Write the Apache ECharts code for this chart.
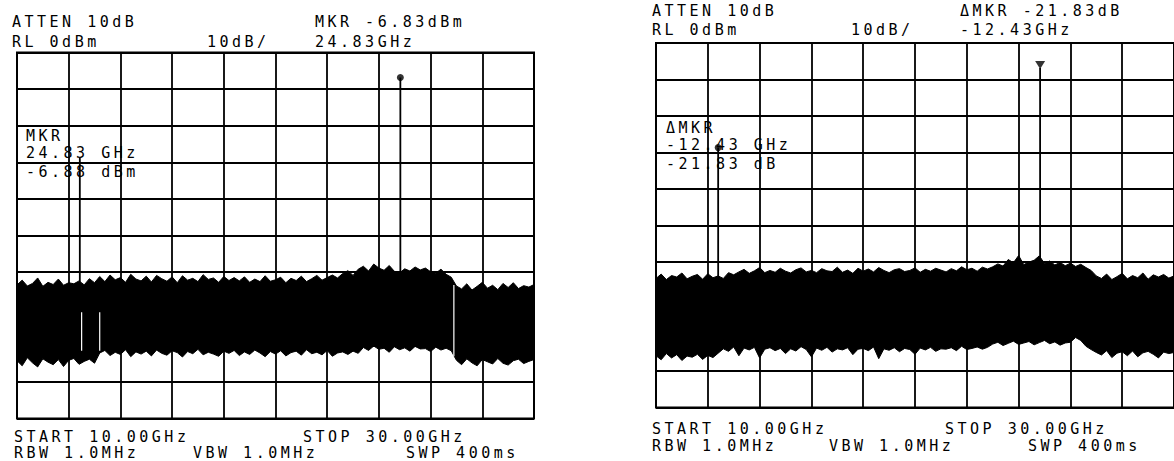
<!DOCTYPE html>
<html><head><meta charset="utf-8">
<script src="https://cdn.jsdelivr.net/npm/echarts@6/dist/echarts.min.js"></script>
<style>
html,body{margin:0;padding:0;background:#fff;}
#chart{width:1174px;height:461px;}
#chart text{letter-spacing:3.5px;}
</style></head><body><div id="chart"></div>
<script>
// Sample frequencies (GHz), 0.2 GHz apart, 10 .. 30
const freqs = Array.from({length: 101}, (_, i) => +(10 + i * 0.2).toFixed(1));

// Left trace: upper / lower noise envelope (dBm)
const leftUpper = [
  -63.5,-62.2,-63.8,-63.1,-61.6,-63.9,-62.8,-63.4,-61.9,-63.6,-62.9,-63.2,
  -62.4,-63.5,-61.8,-62.9,
  -61.2,-62.6,-60.8,-62.1,-61.5,-62.8,-60.6,-61.9,-62.4,-61.1,-62.7,-60.9,-61.8,-62.5,-61.3,-62.9,-61.0,-62.2,-61.7,-62.6,-60.7,-62.0,-61.6,-62.8,-61.2,-62.3,-61.5,
  -62.4,-61.3,-62.8,-61.9,-62.6,-61.0,-62.5,-62.1,-61.4,-62.9,-61.7,-62.3,-61.1,-62.6,-61.8,-60.9,-62.2,-61.5,-60.8,-61.6,
  -60.4,-59.6,-60.9,-59.2,-58.4,-59.7,-57.8,-58.9,-59.5,-58.2,-59.8,-60.2,-59.1,-59.7,-58.6,-59.4,-58.9,-59.9,-60.3,-59.2,-60.6,-61.4,
  -63.8,-64.6,-63.2,-64.9,-63.9,-62.8,-64.4,-63.6,-64.8,-63.1,-64.2,-62.9,-64.5,-63.7,-64.1,-63.4
];
const leftLower = [
  -84.2,-85.6,-83.4,-84.8,-85.9,-83.7,-84.6,-85.3,-83.9,-85.8,-84.1,-83.6,-85.2,-84.4,-83.8,-84.9,
  -82.1,-81.4,-82.8,-81.9,-82.5,-81.2,-83.1,-81.8,-82.4,-81.6,
  -82.9,-81.3,-82.2,-82.7,-81.5,-82.0,-83.2,-81.7,-82.3,-81.1,
  -82.6,-81.9,-82.4,-83.0,-81.6,-82.2,-81.4,-82.8,-81.8,-82.5,
  -81.3,-82.1,-83.1,-81.7,-82.4,-81.5,-82.9,-82.0,-81.6,-82.7,
  -81.2,-82.3,-81.9,-82.6,-81.4,-83.0,-82.1,-81.8,-82.5,-81.6,
  -82.2,
  -80.6,-81.4,-80.2,-81.1,-80.8,-81.9,-80.4,-81.2,-80.7,-81.6,-80.3,-81.0,-80.9,-81.7,-80.5,-81.3,-80.8,-81.5,
  -84.1,-85.3,-83.7,-84.8,-85.6,-83.9,-84.5,-85.1,-83.6,-84.9,-85.4,-84.2,-83.8,-85.0,-84.4,-83.9
];
// Right trace
const rightUpper = [
  -64.6,-63.4,-64.9,-63.8,-64.2,-63.1,-64.7,-64.0,-63.5,-64.8,-63.3,-64.4,-63.9,-64.6,-63.0,-63.6,
  -62.8,-62.1,-63.2,-62.5,-61.6,-63.0,-62.4,-62.9,-61.8,-62.6,
  -63.1,-62.2,-61.7,-62.8,-62.4,-63.0,-61.9,-62.5,-62.7,-61.5,
  -62.9,-62.3,-63.2,-61.8,-62.6,-62.0,-62.8,-61.6,-62.4,-63.0,
  -62.2,-61.9,-62.7,-62.4,-61.7,-62.9,-62.1,-62.6,-61.8,-62.3,
  -62.8,-61.9,-62.5,-61.4,-62.2,-61.8,-62.6,-61.5,-62.0,
  -61.4,-60.6,-61.2,-59.4,-60.3,-58.3,-60.8,-60.1,-59.6,-58.4,-60.5,-59.8,-60.9,-60.2,-61.1,-60.4,-61.3,-60.7,-61.6,-62.4,
  -63.9,-64.6,-63.4,-64.9,-64.1,-63.2,-64.7,-63.8,-64.4,-63.1,-64.8,-63.6,-64.2,-63.5,-64.5,-63.9
];
const rightLower = [
  -85.8,-86.9,-85.2,-86.4,-85.5,-87.1,-85.9,-86.2,-85.4,-86.8,-85.7,-86.3,-85.1,
  -83.9,-84.6,-83.4,-85.8,-83.7,-84.2,-83.5,-86.4,-84.0,-83.6,
  -84.4,-83.8,-85.2,-83.9,-84.5,-83.3,-84.1,-86.1,-83.7,-84.3,
  -83.5,-84.8,-83.9,-84.2,-83.6,-85.5,-84.0,-83.8,-84.4,-83.4,
  -86.6,-83.9,-84.3,-83.6,-84.7,-83.8,-84.1,-85.4,-83.7,-84.2,
  -83.5,-84.6,-83.9,-84.0,-83.6,-84.4,-83.2,-84.1,-83.8,-83.4,
  -84.0,-83.5,
  -82.6,-82.1,-83.0,-82.4,-81.8,-82.7,-82.3,-81.9,-82.8,-82.2,-81.6,-82.5,-82.0,-82.9,-82.3,-82.1,
  -80.8,-81.6,-83.2,-84.1,
  -84.9,-85.6,-84.4,-86.3,-85.1,-84.7,-85.8,-84.5,-86.1,-85.0,-84.6,-85.4,-86.4,-84.8,-85.2,-84.9
];

// Spikes: [freq GHz, peak dBm, foot dBm]
const leftSpikes = [[12.43, -28.7, -66], [24.83, -6.83, -66]];
const rightSpikes = [[12.40, -28.7, -66], [24.83, -6.83, -66]];
// White gaps in the left trace: [freq, top, bottom]
const leftGaps = [[12.5, -71, -81.5], [13.2, -71, -81.5], [26.9, -63.5, -83]];
// Marker points
const leftMarker = [[24.83, -6.83]];
const rightMarker = [[24.83, -6.83]];
const rightDeltaMarker = [[12.40, -28.7]];

// Axis ranges
const xMin = 10, xMax = 30, xStep = 2;
const yMin = -100, yMax = 0, yStep = 10;

// Annotation texts
const leftTexts = ['ATTEN 10dB', 'RL 0dBm', '10dB/', 'MKR -6.83dBm', '24.83GHz',
  'MKR', '24.83 GHz', '-6.88 dBm',
  'START 10.00GHz', 'STOP 30.00GHz', 'RBW 1.0MHz', 'VBW 1.0MHz', 'SWP 400ms'];
const rightTexts = ['ATTEN 10dB', 'RL 0dBm', '10dB/', '\u0394MKR -21.83dB', '-12.43GHz',
  '\u0394MKR', '-12.43 GHz', '-21.83 dB',
  'START 10.00GHz', 'STOP 30.00GHz', 'RBW 1.0MHz', 'VBW 1.0MHz', 'SWP 400ms'];

// ---- layout ----
const leftPos = [[12,21.5],[12,42],[207,42],[315,21.5],[315,42],
  [26,136],[26,153],[26,172],
  [14,437],[303,437],[14,453],[193,453],[406,453]];
const rightPos = [[652,11],[652,30],[851,30],[960,11],[960,30],
  [666,128],[666,145],[666,164],
  [652,429],[945,429],[652,445.5],[829,445.5],[1028,445.5]];

const FONT = '15px "DejaVu Sans Mono"';
function texts(list, pos) {
  return list.map((t, i) => ({
    type: 'text', x: pos[i][0], y: pos[i][1], silent: true,
    style: { text: t, font: FONT, fill: '#000', textVerticalAlign: 'middle', verticalAlign: 'middle' }
  }));
}

function xAxis(gi) {
  return { gridIndex: gi, type: 'value', min: xMin, max: xMax, interval: xStep,
    axisLine: {show: false}, axisTick: {show: false}, axisLabel: {show: false},
    splitLine: {show: true, lineStyle: {color: '#000', width: 1.8}} };
}
function yAxis(gi) {
  return { gridIndex: gi, type: 'value', min: yMin, max: yMax, interval: yStep,
    axisLine: {show: false}, axisTick: {show: false}, axisLabel: {show: false},
    splitLine: {show: true, lineStyle: {color: '#000', width: 1.8}} };
}
// Noise band: one filled polygon between the upper and lower envelopes
function band(gi, upper, lower) {
  return { type: 'custom', xAxisIndex: gi, yAxisIndex: gi, z: 3,
    data: freqs.map((f, i) => [f, upper[i], lower[i]]),
    encode: {x: 0, y: [1, 2]},
    renderItem: function (params, api) {
      if (params.dataIndex !== 0) return null;
      const top = freqs.map((f, i) => api.coord([f, upper[i]]));
      const bot = freqs.map((f, i) => api.coord([f, lower[i]])).reverse();
      return { type: 'polygon', shape: {points: top.concat(bot)},
        style: {fill: '#000', stroke: '#000', lineWidth: 1, lineJoin: 'miter'} };
    } };
}
function segs(gi, data, color, width) {
  return { type: 'custom', xAxisIndex: gi, yAxisIndex: gi, data: data, z: 5,
    encode: {x: 0, y: 1},
    renderItem: function (params, api) {
      const a = api.coord([api.value(0), api.value(1)]);
      const b = api.coord([api.value(0), api.value(2)]);
      return { type: 'line', shape: {x1: a[0], y1: a[1], x2: b[0], y2: b[1]},
        style: {stroke: color, lineWidth: width} };
    } };
}

const chart = echarts.init(document.getElementById('chart'), null, {renderer: 'svg'});
chart.setOption({
  animation: false,
  backgroundColor: '#fff',
  grid: [
    {left: 17, top: 52.5, width: 517, height: 366, show: true, borderColor: '#000', borderWidth: 2},
    {left: 656, top: 43, width: 527, height: 364.5, show: true, borderColor: '#000', borderWidth: 2}
  ],
  xAxis: [xAxis(0), xAxis(1)],
  yAxis: [yAxis(0), yAxis(1)],
  series: [
    band(0, leftUpper, leftLower),
    band(1, rightUpper, rightLower),
    segs(0, leftSpikes, '#000', 1.8),
    segs(1, rightSpikes, '#000', 1.8),
    segs(0, leftGaps, '#fff', 1.2),
    { type: 'scatter', xAxisIndex: 0, yAxisIndex: 0, data: leftMarker, symbol: 'circle', symbolSize: 7,
      itemStyle: {color: '#000'}, z: 6 },
    { type: 'scatter', xAxisIndex: 1, yAxisIndex: 1, data: rightMarker, symbol: 'triangle', symbolRotate: 180,
      symbolSize: [10, 8], symbolOffset: [0, -3], itemStyle: {color: '#000'}, z: 6 },
    { type: 'scatter', xAxisIndex: 1, yAxisIndex: 1, data: rightDeltaMarker, symbol: 'circle', symbolSize: 7,
      itemStyle: {color: '#000'}, z: 6 }
  ],
  graphic: [...texts(leftTexts, leftPos), ...texts(rightTexts, rightPos)]
});
</script></body></html>
